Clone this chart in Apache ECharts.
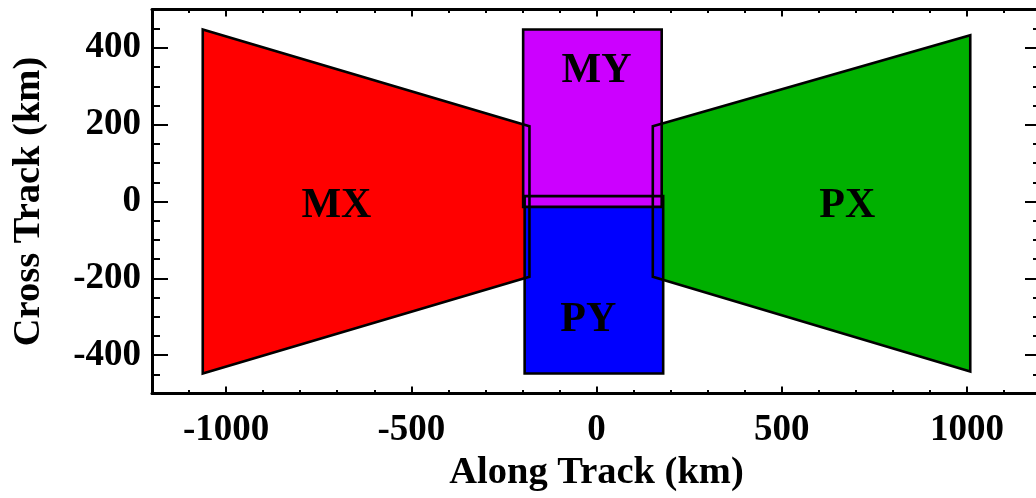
<!DOCTYPE html>
<html>
<head>
<meta charset="utf-8">
<script src="https://cdn.jsdelivr.net/npm/echarts@6/dist/echarts.min.js"></script>
<style>html,body{margin:0;padding:0;background:#fff;}#c{width:1036px;height:498px;}</style>
</head>
<body>
<div id="c"></div>
<script>
// ---- data ----
const shapeNames = ['MX', 'PX', 'PY', 'MY'];
const mxX = [-1063, -181, -181, -1063];
const mxY = [448, 196, -196, -448];
const pxX = [152, 1009, 1009, 152];
const pxY = [196, 433, -443, -196];
const pyX = [-194, 180, 180, -194];
const pyY = [14, 14, -448, -448];
const myX = [-198, 176, 176, -198];
const myY = [448, 448, -14, -14];
const labelNames = ['MX', 'PX', 'PY', 'MY'];
const labelX = [-702, 677, -22, 0];
const labelY = [-12, -12, -310, 340];
const xTicks = [-1000, -500, 0, 500, 1000];
const yTicks = [-400, -200, 0, 200, 400];
const xMin = -1200, xMax = 1200, yMin = -500, yMax = 500;

const shapeXs = [mxX, pxX, pyX, myX];
const shapeYs = [mxY, pxY, pyY, myY];
const fills = ['#ff0000', '#00b000', '#0000ff', '#cc00ff'];

const FONT = 'Liberation Serif';
const chart = echarts.init(document.getElementById('c'), null, {renderer: 'canvas'});

function polyRender(filled) {
  return function (params, api) {
    const i = params.dataIndex;
    const pts = shapeXs[i].map((x, k) => api.coord([x, shapeYs[i][k]]));
    return {
      type: 'polygon',
      shape: {points: pts},
      style: filled ? {fill: fills[i], stroke: null, lineWidth: 0}
                    : {fill: null, stroke: '#000', lineWidth: 2.6, lineJoin: 'miter'}
    };
  };
}

const commonX = {type: 'value', min: xMin, max: xMax, gridIndex: 0, splitLine: {show: false}};
const commonY = {type: 'value', min: yMin, max: yMax, gridIndex: 0, splitLine: {show: false}};
const tickLine = {color: '#000', width: 2};
const axLine = {show: true, onZero: false, lineStyle: {color: '#000', width: 3}};
const noLine = {show: false, onZero: false};

const option = {
  animation: false,
  backgroundColor: '#fff',
  grid: {left: 152, top: 9.5, width: 889, height: 384, containLabel: false, outerBoundsMode: 'none'},
  xAxis: [
    Object.assign({}, commonX, {
      position: 'bottom',
      axisLine: axLine,
      axisTick: {show: true, inside: true, length: 7, lineStyle: tickLine, customValues: xTicks},
      axisLabel: {show: true, customValues: xTicks, margin: 18, formatter: v => String(v),
        fontFamily: FONT, fontWeight: 'bold', fontSize: 37, color: '#000'},
      name: 'Along Track (km)', nameLocation: 'middle', nameGap: 57,
      nameTextStyle: {fontFamily: FONT, fontWeight: 'bold', fontSize: 38.5, color: '#000'}
    }),
    Object.assign({}, commonX, {
      position: 'bottom', interval: 100,
      axisLine: noLine,
      axisTick: {show: true, inside: true, length: 3.5, lineStyle: tickLine},
      axisLabel: {show: false}
    }),
    Object.assign({}, commonX, {
      position: 'top',
      axisLine: axLine,
      axisTick: {show: true, inside: true, length: 7, lineStyle: tickLine, customValues: xTicks},
      axisLabel: {show: false}
    }),
    Object.assign({}, commonX, {
      position: 'top', interval: 100,
      axisLine: noLine,
      axisTick: {show: true, inside: true, length: 3.5, lineStyle: tickLine},
      axisLabel: {show: false}
    })
  ],
  yAxis: [
    Object.assign({}, commonY, {
      position: 'left',
      axisLine: axLine,
      axisTick: {show: true, inside: true, length: 16, lineStyle: tickLine, customValues: yTicks},
      axisLabel: {show: true, customValues: yTicks, margin: 11, formatter: v => String(v),
        fontFamily: FONT, fontWeight: 'bold', fontSize: 37, color: '#000'},
      name: 'Cross Track (km)', nameLocation: 'middle', nameGap: 103, nameRotate: 90,
      nameTextStyle: {fontFamily: FONT, fontWeight: 'bold', fontSize: 38.5, color: '#000'}
    }),
    Object.assign({}, commonY, {
      position: 'left', interval: 50,
      axisLine: noLine,
      axisTick: {show: true, inside: true, length: 8, lineStyle: tickLine},
      axisLabel: {show: false}
    }),
    Object.assign({}, commonY, {
      position: 'right',
      axisLine: axLine,
      axisTick: {show: true, inside: true, length: 16, lineStyle: tickLine, customValues: yTicks},
      axisLabel: {show: false}
    }),
    Object.assign({}, commonY, {
      position: 'right', interval: 50,
      axisLine: noLine,
      axisTick: {show: true, inside: true, length: 8, lineStyle: tickLine},
      axisLabel: {show: false}
    })
  ],
  series: [
    {
      type: 'custom', xAxisIndex: 0, yAxisIndex: 0, z: 2,
      renderItem: polyRender(true),
      data: shapeNames.map((n, i) => [shapeXs[i][0], shapeYs[i][0]])
    },
    {
      type: 'custom', xAxisIndex: 0, yAxisIndex: 0, z: 3,
      renderItem: polyRender(false),
      data: shapeNames.map((n, i) => [shapeXs[i][0], shapeYs[i][0]])
    },
    {
      type: 'custom', xAxisIndex: 0, yAxisIndex: 0, z: 4,
      renderItem: function (params, api) {
        const i = params.dataIndex;
        const p = api.coord([labelX[i], labelY[i]]);
        return {
          type: 'text', x: p[0], y: p[1],
          style: {text: labelNames[i], fill: '#000', align: 'center', verticalAlign: 'middle',
            textAlign: 'center', textVerticalAlign: 'middle',
            font: 'bold 42px "Liberation Serif"'}
        };
      },
      data: labelNames.map((n, i) => [labelX[i], labelY[i]])
    }
  ]
};
chart.setOption(option);
</script>
</body>
</html>
